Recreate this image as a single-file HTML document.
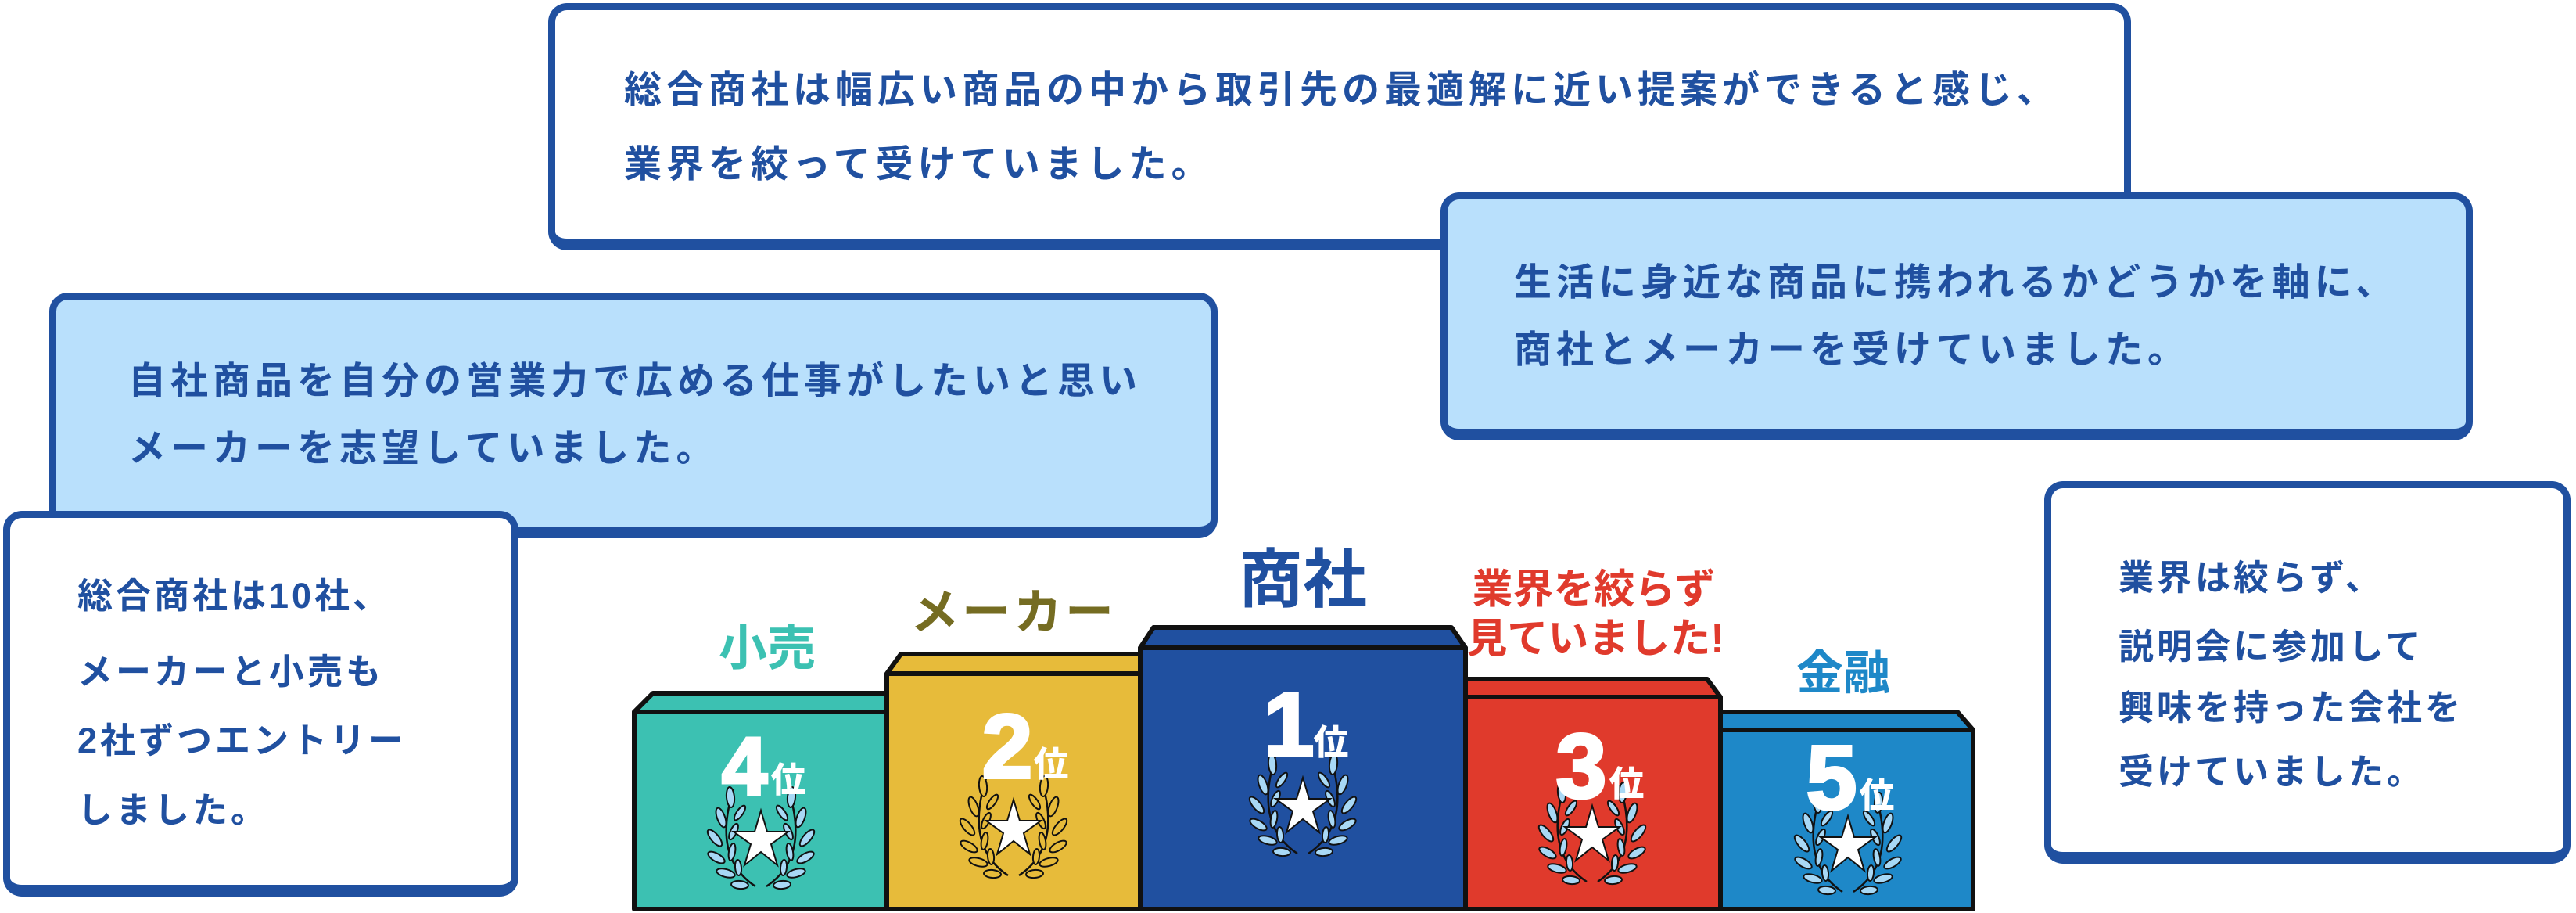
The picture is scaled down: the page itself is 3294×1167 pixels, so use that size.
<!DOCTYPE html>
<html><head><meta charset="utf-8"><style>
html,body{margin:0;padding:0;background:#fff;}
body{width:3294px;height:1167px;position:relative;overflow:hidden;font-family:"Liberation Sans","Noto Sans CJK JP",sans-serif;}
.box{position:absolute;box-sizing:border-box;border:9px solid #2050a0;border-bottom-width:15px;border-radius:24px;}
.t{position:absolute;white-space:nowrap;color:#2050a0;font-weight:bold;font-size:48px;letter-spacing:6px;line-height:1;}
.lab{position:absolute;white-space:nowrap;font-weight:bold;line-height:1;transform:translate(-50%,-50%);}
svg{position:absolute;left:0;top:0;}
</style></head><body>

<div class="box" style="left:701px;top:4px;width:2024px;height:316px;background:#fff;"></div>
<div class="t" style="left:798px;top:92px;">総合商社は幅広い商品の中から取引先の最適解に近い提案ができると感じ、</div>
<div class="t" style="left:798px;top:187px;">業界を絞って受けていました。</div>

<div class="box" style="left:1842px;top:246px;width:1320px;height:317px;background:#b9e0fc;"></div>
<div class="t" style="left:1936px;top:338px;">生活に身近な商品に携われるかどうかを軸に、</div>
<div class="t" style="left:1936px;top:424px;">商社とメーカーを受けていました。</div>

<div class="box" style="left:63px;top:374px;width:1494px;height:314px;background:#b9e0fc;"></div>
<div class="t" style="left:164px;top:464px;">自社商品を自分の営業力で広める仕事がしたいと思い</div>
<div class="t" style="left:164px;top:550px;">メーカーを志望していました。</div>

<div class="box" style="left:4px;top:653px;width:659px;height:493px;background:#fff;"></div>
<div class="t" style="left:99px;top:739px;font-size:45px;letter-spacing:4px;">総合商社は10社、</div>
<div class="t" style="left:99px;top:836px;font-size:45px;letter-spacing:4px;">メーカーと小売も</div>
<div class="t" style="left:99px;top:924px;font-size:45px;letter-spacing:4px;">2社ずつエントリー</div>
<div class="t" style="left:99px;top:1013px;font-size:45px;letter-spacing:4px;">しました。</div>

<div class="box" style="left:2614px;top:615px;width:673px;height:489px;background:#fff;"></div>
<div class="t" style="left:2709px;top:716px;font-size:45px;letter-spacing:4px;">業界は絞らず、</div>
<div class="t" style="left:2709px;top:804px;font-size:45px;letter-spacing:4px;">説明会に参加して</div>
<div class="t" style="left:2709px;top:882px;font-size:45px;letter-spacing:4px;">興味を持った会社を</div>
<div class="t" style="left:2709px;top:964px;font-size:45px;letter-spacing:4px;">受けていました。</div>

<svg width="3294" height="1167" viewBox="0 0 3294 1167">
<defs>
<g id="lh">
<path d="M68 132 Q12 95 40 8" fill="none" stroke="#111" stroke-width="2.5"/>
<g stroke="#111" stroke-width="2">
<ellipse cx="36" cy="18" rx="5" ry="13" transform="rotate(-5 36 18)"/>
<ellipse cx="24" cy="44" rx="5" ry="13" transform="rotate(-20 24 44)"/>
<ellipse cx="16" cy="70" rx="5" ry="13" transform="rotate(-40 16 70)"/>
<ellipse cx="18" cy="95" rx="5" ry="12" transform="rotate(-60 18 95)"/>
<ellipse cx="30" cy="115" rx="5" ry="12" transform="rotate(-75 30 115)"/>
<ellipse cx="48" cy="130" rx="5" ry="11" transform="rotate(-85 48 130)"/>
<ellipse cx="48" cy="38" rx="4" ry="11" transform="rotate(35 48 38)"/>
<ellipse cx="40" cy="62" rx="4" ry="11" transform="rotate(25 40 62)"/>
<ellipse cx="38" cy="88" rx="4" ry="11" transform="rotate(10 38 88)"/>
<ellipse cx="46" cy="108" rx="4" ry="10" transform="rotate(-5 46 108)"/>
</g>
</g>
<g id="lau">
<use href="#lh"/>
<use href="#lh" transform="translate(150 0) scale(-1 1)"/>
<polygon points="75,35 83,62 110,62 88,78 96,105 75,88 54,105 62,78 40,62 67,62" fill="#fff" stroke="#111" stroke-width="2"/>
</g>
</defs>
<g stroke="#111" stroke-width="6" stroke-linejoin="round">
<polygon points="811,910 835,886 1134,886 1134,910" fill="#3cc1b2"/>
<rect x="811" y="910" width="323" height="252" fill="#3cc1b2"/>
<polygon points="1134,861 1152,836 1458,836 1458,861" fill="#e7bb3a"/>
<rect x="1134" y="861" width="324" height="301" fill="#e7bb3a"/>
<polygon points="1874,891 1874,868 2183,868 2200,891" fill="#e03a2c"/>
<rect x="1874" y="891" width="326" height="271" fill="#e03a2c"/>
<polygon points="2200,933 2200,910 2503,910 2523,933" fill="#1e88c8"/>
<rect x="2200" y="933" width="323" height="229" fill="#1e88c8"/>
<polygon points="1458,828 1475,802 1856,802 1874,828" fill="#2050a0"/>
<rect x="1458" y="828" width="416" height="334" fill="#2050a0"/>
</g>
<g fill="#a8d8f5"><use href="#lau" transform="translate(898 1001)"/></g>
<g fill="#e7bb3a"><use href="#lau" transform="translate(1221 987)"/></g>
<g fill="#a8d8f5"><use href="#lau" transform="translate(1591 959)"/></g>
<g fill="#a8d8f5"><use href="#lau" transform="translate(1961 995)"/></g>
<g fill="#a8d8f5"><use href="#lau" transform="translate(2288 1008)"/></g>
<g font-family="Liberation Sans, Noto Sans CJK JP, sans-serif" font-weight="bold" fill="#fff" stroke="#fff" stroke-width="4">
<text x="952" y="1015" font-size="104" text-anchor="middle">4</text><text x="986" y="1012" font-size="44" stroke-width="1">位</text>
<text x="1288" y="994" font-size="116" text-anchor="middle">2</text><text x="1322" y="992" font-size="44" stroke-width="1">位</text>
<text x="1648" y="966" font-size="116" text-anchor="middle">1</text><text x="1680" y="964" font-size="44" stroke-width="1">位</text>
<text x="2022" y="1019" font-size="116" text-anchor="middle">3</text><text x="2058" y="1017" font-size="44" stroke-width="1">位</text>
<text x="2342" y="1034" font-size="116" text-anchor="middle">5</text><text x="2378" y="1032" font-size="44" stroke-width="1">位</text>
</g>
</svg>

<div class="lab" style="left:981px;top:830px;font-size:62px;color:#3cc1b2;">小売</div>
<div class="lab" style="left:1296px;top:784px;font-size:62px;color:#756c22;letter-spacing:4px;">メーカー</div>
<div class="lab" style="left:1666px;top:742px;font-size:82px;color:#2050a0;">商社</div>
<div class="lab" style="left:2038px;top:754px;font-size:52px;color:#e03a2c;">業界を絞らず</div>
<div class="lab" style="left:2040px;top:817px;font-size:52px;color:#e03a2c;">見ていました!</div>
<div class="lab" style="left:2357px;top:861px;font-size:60px;color:#1e88c8;">金融</div>
</body></html>
